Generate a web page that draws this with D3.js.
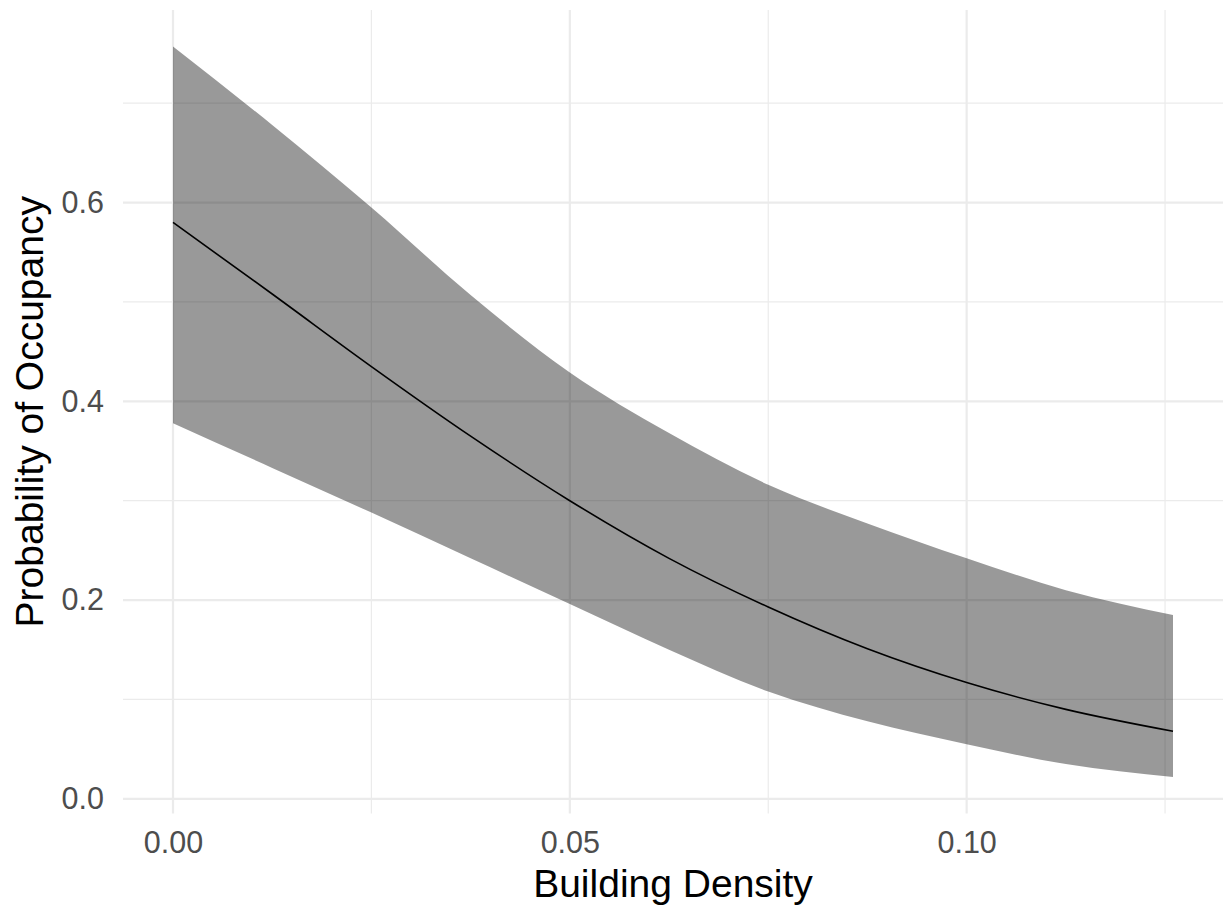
<!DOCTYPE html>
<html>
<head>
<meta charset="utf-8">
<script src="https://cdn.jsdelivr.net/npm/d3@7"></script>
<style>
  body { margin: 0; background: #fff; }
  text { font-family: "Liberation Sans", Arial, sans-serif; }
</style>
</head>
<body>
<div id="chart"></div>
<script>
// building density (x) and fitted occupancy with its interval
var density = [0, 0.0125, 0.025, 0.0375, 0.05, 0.0625, 0.075, 0.0875, 0.1, 0.1125, 0.126]
var fit     = [0.580, 0.508, 0.435, 0.365, 0.300, 0.242, 0.193, 0.151, 0.117, 0.090, 0.068]
var upper   = [0.757, 0.678, 0.595, 0.507, 0.429, 0.368, 0.316, 0.277, 0.242, 0.210, 0.185]
var lower   = [0.378, 0.333, 0.288, 0.242, 0.196, 0.150, 0.108, 0.078, 0.055, 0.035, 0.022]

var xMajor = [0, 0.05, 0.10]
var xMinor = [0.025, 0.075, 0.125]
var yMajor = [0, 0.2, 0.4, 0.6]
var yMinor = [0.1, 0.3, 0.5, 0.7]

var W = 1223, H = 911
var margin = {top: 10, right: 0, bottom: 97.5, left: 123}
var width = W - margin.left - margin.right
var height = H - margin.top - margin.bottom

var rows = density.map(function(d, i){
  return {x: d, y: fit[i], lo: lower[i], hi: upper[i]}
})

// ggplot style 5% expansion of the data range
function expand(ext){
  var pad = (ext[1] - ext[0]) * 0.05
  return [ext[0] - pad, ext[1] + pad]
}

var x = d3.scaleLinear()
    .domain(expand(d3.extent(density)))
    .range([0, width])
var y = d3.scaleLinear()
    .domain(expand([d3.min(lower), d3.max(upper)]))
    .range([height, 0])

var svg = d3.select("#chart").append("svg")
    .attr("width", W)
    .attr("height", H)
  .append("g")
    .attr("transform", "translate(" + margin.left + "," + margin.top + ")")

// grid
var grid = svg.append("g").attr("stroke", "#ebebeb").attr("fill", "none")
grid.selectAll(".ymin").data(yMinor).enter().append("line")
    .attr("x1", 0).attr("x2", width)
    .attr("y1", function(d){ return y(d) }).attr("y2", function(d){ return y(d) })
    .attr("stroke-width", 1.2)
grid.selectAll(".xmin").data(xMinor).enter().append("line")
    .attr("y1", 0).attr("y2", height)
    .attr("x1", function(d){ return x(d) }).attr("x2", function(d){ return x(d) })
    .attr("stroke-width", 1.2)
grid.selectAll(".ymaj").data(yMajor).enter().append("line")
    .attr("x1", 0).attr("x2", width)
    .attr("y1", function(d){ return y(d) }).attr("y2", function(d){ return y(d) })
    .attr("stroke-width", 2.2)
grid.selectAll(".xmaj").data(xMajor).enter().append("line")
    .attr("y1", 0).attr("y2", height)
    .attr("x1", function(d){ return x(d) }).attr("x2", function(d){ return x(d) })
    .attr("stroke-width", 2.2)

// ribbon + line
var band = d3.area()
    .x(function(d){ return x(d.x) })
    .y0(function(d){ return y(d.lo) })
    .y1(function(d){ return y(d.hi) })
    .curve(d3.curveMonotoneX)

svg.append("path")
    .datum(rows)
    .attr("d", band)
    .attr("fill", "#000")
    .attr("fill-opacity", 0.4)

var line = d3.line()
    .x(function(d){ return x(d.x) })
    .y(function(d){ return y(d.y) })
    .curve(d3.curveMonotoneX)

svg.append("path")
    .datum(rows)
    .attr("d", line)
    .attr("fill", "none")
    .attr("stroke", "#000")
    .attr("stroke-width", 1.6)

// axes (labels only)
svg.append("g")
    .attr("transform", "translate(0," + height + ")")
    .call(d3.axisBottom(x).tickValues(xMajor).tickFormat(d3.format(".2f")).tickSize(0).tickPadding(18))
svg.append("g")
    .call(d3.axisLeft(y).tickValues(yMajor).tickFormat(d3.format(".1f")).tickSize(0).tickPadding(19))

svg.selectAll(".domain").remove()
svg.selectAll(".tick text")
    .attr("fill", "#4d4d4d")
    .style("font-size", "30.5px")
    .style("font-family", "'Liberation Sans', Arial, sans-serif")

svg.append("text")
    .attr("x", width / 2)
    .attr("y", H - margin.top - 14)
    .attr("text-anchor", "middle")
    .style("font-size", "39px")
    .attr("fill", "#000")
    .text("Building Density")

svg.append("text")
    .attr("transform", "translate(" + (43 - margin.left) + "," + (height / 2) + ") rotate(-90)")
    .attr("text-anchor", "middle")
    .style("font-size", "39px")
    .attr("fill", "#000")
    .text("Probability of Occupancy")
</script>
</body>
</html>
